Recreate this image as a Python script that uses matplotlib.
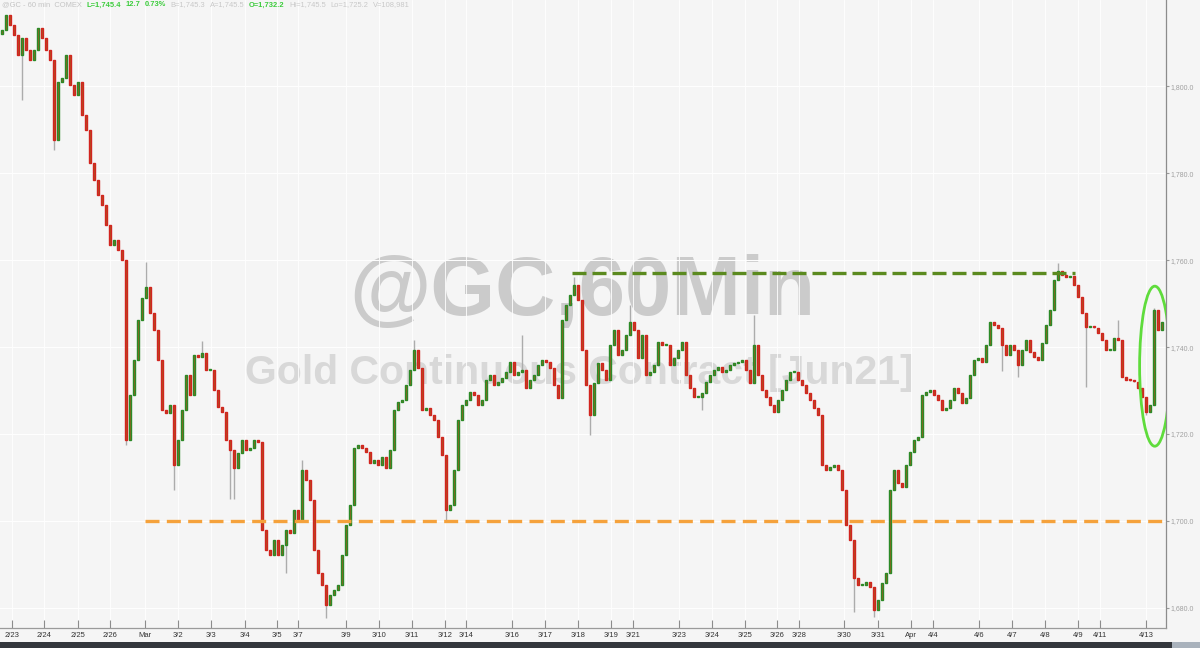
import matplotlib
matplotlib.use("Agg")
import matplotlib.pyplot as plt
from matplotlib.patches import Ellipse, Rectangle

# ---------------- data ----------------
first_open = 1812.0
closes = [
    1812.9, 1816.3, 1814.0, 1811.7, 1807.1, 1811.0, 1808.3, 1806.0, 1808.3, 1813.3,
    1811.0, 1808.3, 1806.0, 1787.6, 1800.9, 1801.8, 1807.1, 1800.2, 1797.9, 1800.9,
    1793.3, 1789.9, 1782.3, 1778.4, 1775.0, 1772.6, 1768.0, 1763.4, 1764.6, 1762.3,
    1760.0, 1718.6, 1729.0, 1737.0, 1746.2, 1751.3, 1753.8, 1747.8, 1743.9, 1737.0,
    1725.5, 1724.8, 1726.7, 1712.9, 1718.6, 1725.5, 1733.6, 1729.0, 1738.2, 1737.7,
    1738.6, 1734.7, 1734.7, 1730.1, 1726.2, 1725.1, 1718.6, 1716.3, 1712.2, 1715.6,
    1718.6, 1716.3, 1716.8, 1718.6, 1718.2, 1697.9, 1693.3, 1692.2, 1695.6, 1692.2,
    1694.5, 1697.9, 1697.2, 1702.5, 1700.2, 1711.7, 1709.4, 1704.8, 1693.3, 1688.0,
    1685.3, 1680.7, 1683.0, 1684.1, 1685.3, 1692.2, 1699.1, 1703.7, 1716.8, 1717.5,
    1716.8, 1715.9, 1713.3, 1714.0, 1712.9, 1714.7, 1712.2, 1716.3, 1725.5, 1727.4,
    1727.8, 1731.3, 1734.7, 1739.3, 1735.2, 1725.5, 1726.0, 1724.4, 1723.2, 1719.3,
    1715.2, 1702.5, 1703.7, 1711.7, 1723.2, 1726.7, 1727.8, 1729.7, 1729.0, 1726.7,
    1727.8, 1732.4, 1733.6, 1731.3, 1732.0, 1732.9, 1734.3, 1736.6, 1733.6, 1734.3,
    1734.7, 1730.6, 1732.4, 1733.6, 1735.9, 1737.0, 1736.6, 1735.2, 1731.3, 1728.3,
    1746.2, 1749.7, 1752.0, 1754.3, 1750.8, 1739.3, 1731.3, 1724.4, 1731.7, 1736.3,
    1734.7, 1732.4, 1740.5, 1743.9, 1738.2, 1739.3, 1742.8, 1745.8, 1743.9, 1737.5,
    1742.8, 1733.6, 1734.3, 1735.9, 1741.2, 1740.5, 1740.5, 1735.9, 1737.5, 1739.3,
    1741.2, 1733.6, 1730.6, 1728.5, 1728.5, 1729.4, 1732.0, 1733.6, 1734.7, 1735.4,
    1734.3, 1734.7, 1735.9, 1736.3, 1736.6, 1737.0, 1734.7, 1731.7, 1740.5, 1733.6,
    1730.1, 1728.5, 1726.7, 1725.1, 1727.8, 1730.1, 1732.4, 1734.3, 1734.3, 1732.4,
    1731.3, 1729.4, 1727.8, 1726.0, 1724.4, 1712.9, 1711.7, 1712.4, 1712.9, 1711.7,
    1707.2, 1699.1, 1695.6, 1686.9, 1685.3, 1685.3, 1686.0, 1684.9, 1679.6, 1681.9,
    1685.8, 1688.0, 1707.2, 1711.7, 1708.8, 1707.8, 1712.9, 1715.9, 1718.6, 1719.3,
    1729.0, 1729.7, 1730.1, 1729.0, 1727.8, 1725.5, 1726.0, 1727.8, 1730.6, 1729.4,
    1727.1, 1728.3, 1733.6, 1737.0, 1737.5, 1736.6, 1740.5, 1745.8, 1745.1, 1744.4,
    1740.5, 1738.2, 1740.5, 1739.3, 1735.9, 1739.3, 1741.6, 1738.9, 1737.7, 1737.0,
    1740.9, 1745.1, 1748.5, 1755.4, 1757.5, 1756.6, 1756.1, 1756.4, 1754.3, 1751.5,
    1747.8, 1744.6, 1744.6, 1744.4, 1743.2, 1741.6, 1739.3, 1739.3, 1742.1, 1741.6,
    1733.1, 1732.4, 1732.2, 1732.0, 1730.6, 1728.5, 1725.1, 1726.7, 1748.5, 1743.9,
    1745.8,
]
# notable wick extremes (bar index -> price)
wick_highs = {36: 1759.5, 50: 1741.5, 75: 1714.0, 103: 1741.6, 130: 1742.7,
              143: 1756.1, 157: 1749.6, 188: 1747.3, 264: 1759.3, 279: 1746.2,
              288: 1749.0}
wick_lows = {5: 1796.8, 13: 1785.3, 31: 1717.5, 43: 1707.1, 57: 1705.0, 58: 1705.0,
             71: 1688.0, 81: 1677.7, 111: 1700.2, 147: 1719.8, 175: 1725.5,
             213: 1679.0, 218: 1677.9, 250: 1734.6, 254: 1733.0, 271: 1730.8,
             286: 1724.4}

tick_pos = [2.5, 10.5, 19, 27, 35.75, 44, 52.25, 60.75, 68.75, 74, 86, 94.25,
            102.5, 110.75, 116, 127.5, 135.75, 144, 152.25, 157.75, 169.25,
            177.5, 185.75, 193.75, 199.25, 210.5, 219, 227.25, 232.75, 244.25,
            252.5, 260.75, 269, 274.5, 286]
tick_labels = ["2/23", "2/24", "2/25", "2/26", "Mar", "3/2", "3/3", "3/4", "3/5",
               "3/7", "3/9", "3/10", "3/11", "3/12", "3/14", "3/16", "3/17",
               "3/18", "3/19", "3/21", "3/23", "3/24", "3/25", "3/26", "3/28",
               "3/30", "3/31", "Apr", "4/4", "4/6", "4/7", "4/8", "4/9", "4/11",
               "4/13"]
price_ticks = [1680, 1700, 1720, 1740, 1760, 1780, 1800]

resistance = 1757.0
resistance_span = (142.5, 268.25)
support = 1700.0
support_span = (35.75, 291.0)
highlight_center = (288.2, 1735.6)
highlight_size = (7.6, 36.8)

header = [
    ("@GC - 60 min  COMEX", "#c4c4c4", "normal"),
    ("L=1,745.4", "#3ccc3c", "bold"), ("12.7", "#3ccc3c", "bold"),
    ("0.73%", "#3ccc3c", "bold"),
    ("B=1,745.3", "#c8c8c8", "normal"), ("A=1,745.5", "#c8c8c8", "normal"),
    ("O=1,732.2", "#3ccc3c", "bold"),
    ("Hi=1,745.5", "#c8c8c8", "normal"), ("Lo=1,725.2", "#c8c8c8", "normal"),
    ("V=108,981", "#c8c8c8", "normal"),
]

# ---------------- figure ----------------
W, H = 1200, 648
fig = plt.figure(figsize=(12, 6.48), dpi=100, facecolor="#f5f5f5")
ax = fig.add_axes([0, 20 / H, 1166 / W, 628 / H])
ax.set_facecolor("#f5f5f5")

ax.set_xlim(-0.5, 291.0)
ax.set_ylim(1675.4, 1819.8)

# watermark
ax.text(0.499, 0.533, "@GC,60Min", transform=ax.transAxes, ha="center",
        va="center", fontsize=60, fontweight="bold", color="#cbcbcb",
        family="Liberation Sans", zorder=0)
ax.text(0.497, 0.406, "Gold Continuous Contract [Jun21]", transform=ax.transAxes,
        ha="center", va="center", fontsize=29.5, fontweight="bold",
        color="#d8d8d8", family="Liberation Sans", zorder=0)

# grid
for p in price_ticks:
    ax.axhline(p, color="white", lw=0.7, zorder=0.5)
for t in tick_pos:
    ax.axvline(t, color="white", lw=0.6, zorder=0.5)

# candles
up_col, dn_col, body_col, wick_col = "#2b8a27", "#d2241f", "#a8581e", "#acacac"
opens = [first_open] + closes[:-1]
xs = list(range(len(closes)))
highs, lows = [], []
for i, (o, c) in enumerate(zip(opens, closes)):
    highs.append(max(o, c, wick_highs.get(i, -1e9)))
    lows.append(min(o, c, wick_lows.get(i, 1e9)))
ax.vlines(xs, lows, highs, color=wick_col, lw=1.0, zorder=2)
edge = [up_col if c >= o else dn_col for o, c in zip(opens, closes)]
heights = [c - o if abs(c - o) > 0.3 else 0.3 for o, c in zip(opens, closes)]
ax.bar(xs, heights, bottom=opens, width=0.45, color=body_col, edgecolor=edge,
       linewidth=1.0, zorder=3)

# levels
ax.plot(resistance_span, [resistance, resistance], color="#5b8a1f", lw=2.4,
        dashes=(4.2, 1.8), zorder=4)
ax.plot(support_span, [support, support], color="#f5a23c", lw=2.4,
        dashes=(4.2, 2.2), zorder=4)

ax.add_patch(Ellipse(highlight_center, highlight_size[0], highlight_size[1],
                     fill=False, edgecolor="#5fdc3c", lw=2.0, zorder=5))

# axes styling
for s in ["left", "top"]:
    ax.spines[s].set_visible(False)
ax.spines["right"].set_color("#8c8c8c")
ax.spines["bottom"].set_color("#9a9a9a")
ax.spines["right"].set_linewidth(0.9)
ax.spines["bottom"].set_linewidth(0.9)

ax.yaxis.tick_right()
ax.set_yticks(price_ticks)
ax.set_yticklabels([f"{p:,.1f}" for p in price_ticks])
ax.tick_params(axis="y", direction="out", length=2, width=0.8, pad=1.5,
               labelsize=5, labelcolor="#a0a0a0", color="#999999")
ax.set_xticks(tick_pos)
ax.set_xticklabels(tick_labels)
ax.tick_params(axis="x", direction="in", length=6, width=0.8, pad=3,
               labelsize=5.5, labelcolor="#333333", color="#8c8c8c")
for lab in ax.get_xticklabels() + ax.get_yticklabels():
    lab.set_family("Liberation Sans")

# header text, laid out one piece after another
renderer = fig.canvas.get_renderer()
x_px = 2.0
for txt, col, wt in header:
    t = fig.text(x_px / W, 1 - 5 / H, txt, ha="left", va="center", fontsize=5.4,
                 color=col, fontweight=wt, family="Liberation Sans", zorder=10)
    bb = t.get_window_extent(renderer)
    x_px = bb.x1 + 4.5

# bottom bar
fig.patches.append(Rectangle((0, 0), 1, 6 / H, transform=fig.transFigure,
                             facecolor="#33373c", edgecolor="none", zorder=0))
fig.patches.append(Rectangle((1172 / W, 0), 28 / W, 6 / H,
                             transform=fig.transFigure, facecolor="#a9b2bc",
                             edgecolor="none", zorder=1))

fig.savefig("out.png", dpi=100, facecolor=fig.get_facecolor())
